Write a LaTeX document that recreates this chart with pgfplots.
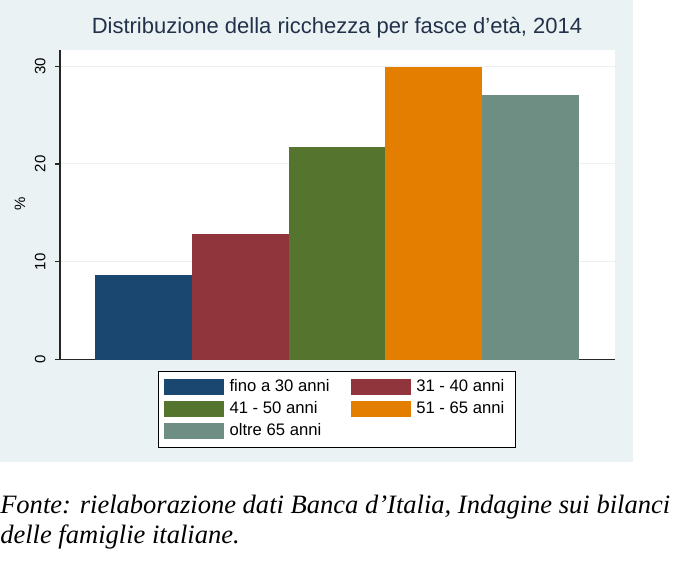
\documentclass[border=0pt]{standalone}
\usepackage{pgfplots}
\pgfplotsset{compat=1.18}
\usepackage{fontspec}
\setmainfont{Liberation Sans}
\newfontfamily\capfont{Liberation Serif}

\definecolor{panel}{RGB}{234,242,243}
\definecolor{gridc}{RGB}{236,242,244}
\definecolor{titlec}{RGB}{35,50,75}
\definecolor{snavy}{RGB}{26,71,111}
\definecolor{smaroon}{RGB}{144,53,59}
\definecolor{sgreen}{RGB}{85,117,47}
\definecolor{sorange}{RGB}{227,126,0}
\definecolor{steal}{RGB}{110,142,132}

\begin{document}
\begin{tikzpicture}[x=0.75pt,y=0.75pt]
% page: 680 x 561 px, y measured from the bottom
\useasboundingbox (0,0) rectangle (680,561);
\fill[white] (0,0) rectangle (680,561);
\fill[panel] (0,99) rectangle (633,561);

\begin{axis}[
	at={(62,206)}, anchor=south west,
	scale only axis,
	width=416.25pt, height=232.5pt,
	axis background/.style={fill=white},
	xmin=-0.862, xmax=4.872,
	ymin=0, ymax=31.7,
	axis lines*=left,
	axis line style={black!85, line width=0.9pt},
	xtick=\empty,
	ytick={0,10,20,30},
	tick align=outside,
	major tick length=3.75pt,
	tick style={black!85, line width=0.9pt},
	ymajorgrids,
	grid style={gridc, line width=0.8pt},
	/pgf/number format/assume math mode=true,
	tick label style={font=\fontsize{11.25pt}{13pt}\selectfont},
	yticklabel style={rotate=90, anchor=south, inner sep=0pt},
	yticklabel shift=7pt,
	ylabel={\%},
	ylabel style={at={(axis description cs:-0.072,0.503)}, anchor=center,
		font=\fontsize{11.25pt}{13pt}\selectfont},
	title={Distribuzione della ricchezza per fasce d'età, 2014},
	title style={at={(axis description cs:0.499,1.0248)}, anchor=base, yshift=0pt,
		inner sep=0pt, font=\fontsize{16.5pt}{19pt}\selectfont, text=titlec},
	legend columns=2,
	legend cell align=left,
	legend image code/.code={\fill[#1] (0pt,-6pt) rectangle (45pt,6pt);},
	legend style={
		at={(axis description cs:0.499,-0.0355)}, anchor=north,
		draw=black, line width=0.7pt, fill=white,
		inner xsep=4.5pt, inner ysep=4pt,
		font=\fontsize{12.5pt}{15pt}\selectfont,
		nodes={text height=9pt, text depth=3pt, inner ysep=2.25pt, inner xsep=4pt},
		/tikz/every even column/.append style={column sep=12pt},
	},
]
\addplot[ybar, bar width=1, bar shift=0pt, fill=snavy, draw=none] coordinates {(0,8.6)};
\addplot[ybar, bar width=1, bar shift=0pt, fill=smaroon, draw=none] coordinates {(1,12.8)};
\addplot[ybar, bar width=1, bar shift=0pt, fill=sgreen, draw=none] coordinates {(2,21.7)};
\addplot[ybar, bar width=1, bar shift=0pt, fill=sorange, draw=none] coordinates {(3,29.9)};
\addplot[ybar, bar width=1, bar shift=0pt, fill=steal, draw=none] coordinates {(4,27.1)};
\legend{fino a 30 anni, 31 - 40 anni, 41 - 50 anni, 51 - 65 anni, oltre 65 anni}
\end{axis}

% source note below the chart
\node[anchor=base west, inner sep=0pt, font=\capfont\itshape\fontsize{19.9pt}{22.5pt}\selectfont]
	at (0,48) {Fonte: rielaborazione dati Banca d’Italia, Indagine sui bilanci};
\node[anchor=base west, inner sep=0pt, font=\capfont\itshape\fontsize{19.9pt}{22.5pt}\selectfont]
	at (0,18) {delle famiglie italiane.};
\end{tikzpicture}
\end{document}
